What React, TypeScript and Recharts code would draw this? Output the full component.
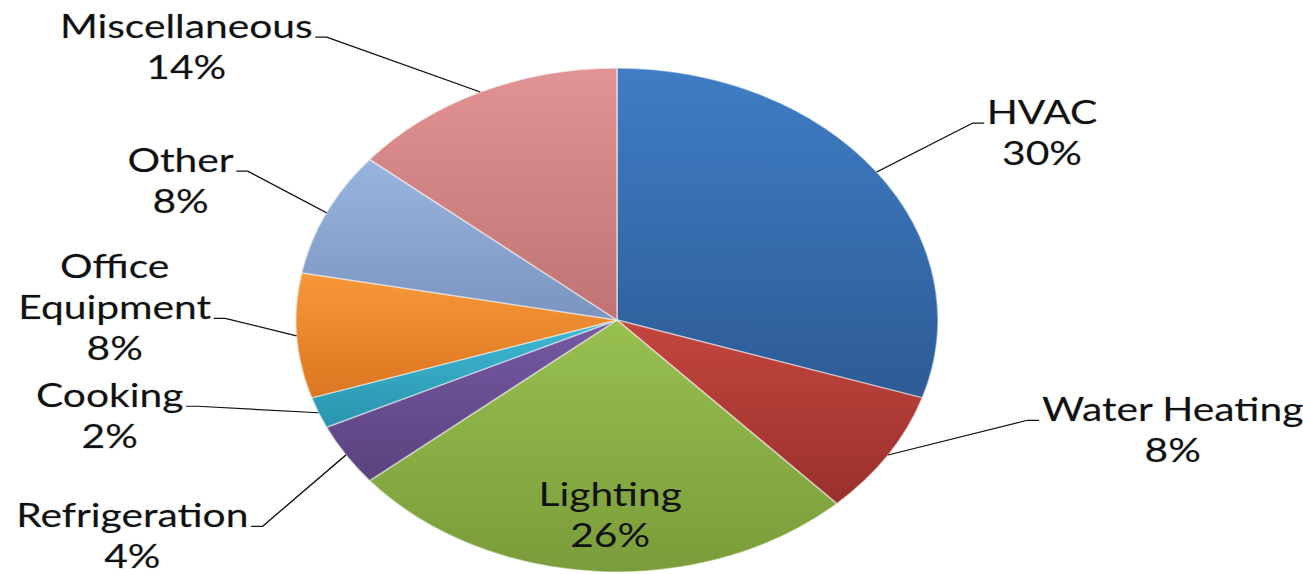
import React from 'react';
import { PieChart, Pie, Cell } from 'recharts';

const categories = ['HVAC', 'Water Heating', 'Lighting', 'Refrigeration', 'Cooking', 'Office Equipment', 'Other', 'Miscellaneous'];
const shares = [30, 8, 26, 4, 2, 8, 8, 14];
const insideLabels = ['Lighting'];

const lightColors = ['#3f7dc5', '#c4463f', '#98c050', '#7659a3', '#3fbad6', '#f8983a', '#98b5e0', '#e29393'];
const darkColors = ['#2d5b95', '#99302c', '#7a9c3a', '#5b427e', '#2a93ad', '#dc7520', '#7a94bf', '#bf7373'];

// hand placement of the labels, like Excel's best fit (px, before stretch)
const labelNudge = [[4, 3], [35, -82], [7, -1], [9, 24], [-13, -39], [32, -23], [18, -4], [-83, 25]];

const W = 1303;
const H = 574;
const STRETCH = 1.274; // the original picture is a round pie stretched sideways
const FONT = 'Lato, "Open Sans", sans-serif';
const FONT_SIZE = 32;
const LINE_H = 41;
const HSEG = 9;
const GAP = 2;
const RADIAN = Math.PI / 180;

const data = categories.map((name, i) => ({ name, value: shares[i] }));

const ctx = document.createElement('canvas').getContext('2d');
function textWidth(s: string) {
  if (!ctx) return s.length * FONT_SIZE * 0.5;
  ctx.font = `${FONT_SIZE}px Lato`;
  return ctx.measureText(s).width;
}

function splitName(name: string) {
  if (name.length <= 14) return [name];
  const cut = name.lastIndexOf(' ');
  return [name.slice(0, cut), name.slice(cut + 1)];
}

function renderLabel(props: any) {
  const { cx, cy, midAngle, outerRadius, index, percent, name } = props;
  const lines = [...splitName(name), `${Math.round(percent * 100)}%`];
  const cos = Math.cos(-midAngle * RADIAN);
  const sin = Math.sin(-midAngle * RADIAN);
  const [nx, ny] = labelNudge[index];

  if (insideLabels.includes(name)) {
    const r = outerRadius * 0.78;
    const x = cx + r * cos + nx;
    const y = cy + r * sin + ny;
    return (
      <text textAnchor="middle" fontFamily={FONT} fontSize={FONT_SIZE} fill="#111">
        {lines.map((l, i) => (
          <tspan key={i} x={x} y={y + (i - (lines.length - 1) / 2) * LINE_H + 11}>{l}</tspan>
        ))}
      </text>
    );
  }

  const sx = cx + outerRadius * cos;
  const sy = cy + outerRadius * sin;
  const r2 = outerRadius * 1.35;
  const ex = cx + r2 * cos + nx;
  const ey = cy + r2 * sin + ny;
  const right = ex > cx;
  const hx = right ? ex + HSEG : ex - HSEG;
  const blockW = Math.max(...lines.map(textWidth));
  const left = right ? hx + GAP : hx - GAP - blockW;
  const mid = left + blockW / 2;
  const anchorIdx = Math.floor((lines.length - 1) / 2);

  return (
    <g>
      <path d={`M${sx},${sy}L${ex},${ey}L${hx},${ey}`} stroke="#111" strokeWidth={1.2} fill="none" />
      <text
        textAnchor="middle"
        fontFamily={FONT}
        fontSize={FONT_SIZE}
        fill="#111"
        stroke="#bbb"
        strokeOpacity={0.5}
        strokeWidth={0.8}
        paintOrder="stroke"
      >
        {lines.map((l, i) => (
          <tspan key={i} x={mid} y={ey + 1 + (i - anchorIdx) * LINE_H}>{l}</tspan>
        ))}
      </text>
    </g>
  );
}

export default function App() {
  const innerW = W / STRETCH;
  return (
    <div style={{ position: 'absolute', left: 0, top: 0, width: W, height: H, overflow: 'hidden', background: '#fff' }}>
      <div style={{ width: innerW, height: H, transform: `scaleX(${STRETCH})`, transformOrigin: '0 0' }}>
        <PieChart width={innerW} height={H} margin={{ top: 0, right: 0, bottom: 0, left: 0 }}>
          <defs>
            {categories.map((c, i) => (
              <linearGradient key={c} id={`slice${i}`} x1="0" y1="0" x2="0" y2="1">
                <stop offset="0%" stopColor={lightColors[i]} />
                <stop offset="100%" stopColor={darkColors[i]} />
              </linearGradient>
            ))}
          </defs>
          <Pie
            data={data}
            dataKey="value"
            nameKey="name"
            cx={484.3}
            cy={320}
            outerRadius={252}
            startAngle={90}
            endAngle={-270}
            stroke="rgba(255,255,255,0.45)"
            strokeWidth={1.5}
            label={renderLabel}
            labelLine={false}
            isAnimationActive={false}
          >
            {data.map((d, i) => (
              <Cell key={d.name} fill={`url(#slice${i})`} />
            ))}
          </Pie>
        </PieChart>
      </div>
    </div>
  );
}
